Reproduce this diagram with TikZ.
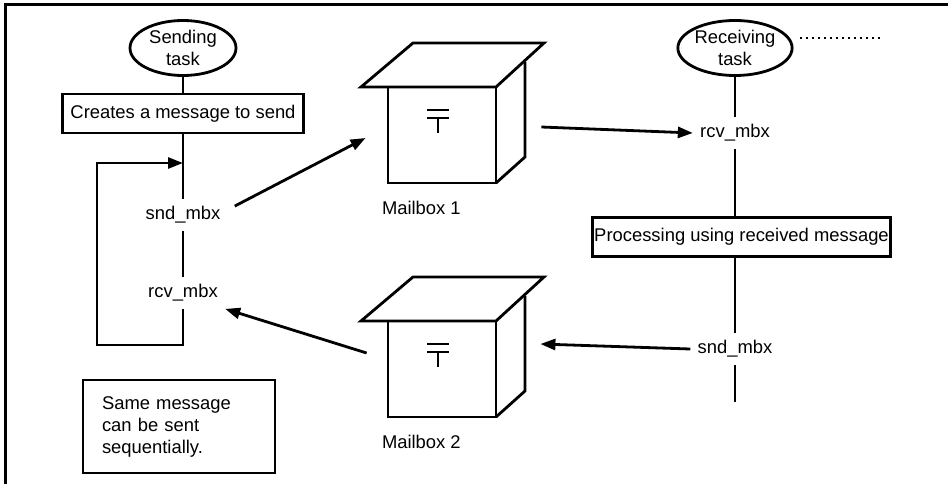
\documentclass[tikz,border=0pt]{standalone}
\usepackage{fontspec}
\setmainfont{Liberation Sans}
\usepackage{tikz}
\usetikzlibrary{arrows.meta,positioning,shapes.geometric}

\tikzset{
  mailbox/.pic={
    \node[draw,minimum width=108pt,minimum height=96pt,inner sep=0pt] (-face) at (0,0) {};
    \draw (-81,-48) -- (54,-48) -- (102,-92) -- (-29,-92) -- cycle;
    \draw (83,-73) -- (83,22) -- (54,48);
    \draw (-15,-25) -- (7,-25) (-15,-17) -- (7,-17) (-4,-17) -- (-4,-2);
  }
}

\begin{document}
\begin{tikzpicture}[x=1pt,y=-1pt,line width=2.8pt,>={Triangle[length=15pt,width=11pt]},on grid,
	every node/.style={font=\fontsize{18.4}{22}\selectfont},
	task/.style={draw,ellipse,minimum width=106pt,minimum height=55pt,inner sep=0pt,align=center},
	stepbox/.style={draw,minimum height=39pt,inner xsep=8pt,inner ysep=0pt},
	call/.style={minimum height=29pt,inner xsep=6pt,inner ysep=0pt},
	note/.style={draw,minimum height=93pt,text width=154pt,inner xsep=19pt,align=left},
	dotline/.style={line width=2.2pt,dash pattern=on 2pt off 4pt}]
	\useasboundingbox (0,0) rectangle (948,484);
	\draw[line width=3pt] (5,484) |- (948,5);

	\node[task] (stask) at (183,48) {Sending\\task};
	\node[stepbox] (cbox) at (183,113.5) {Creates a message to send};
	\node[call] (snd_1) at (183,215) {snd\_mbx};
	\node[call] (rcv_1) [below=78pt of snd_1] {rcv\_mbx};
	\coordinate (loopin) at (183,163);

	\node[task] (rtask) at (735,48) {Receiving\\task};
	\node[call] (rcv_2) at (735,133) {rcv\_mbx};
	\node[stepbox,inner xsep=1.5pt] (pbox) at (741.5,237) {Processing using received message};
	\node[call] (snd_2) at (735,349) {snd\_mbx};
	\coordinate (rend) at (735,402);

	\pic (mb1) at (442,135) {mailbox};
	\pic (mb2) at (442,369) {mailbox};
	\node[anchor=west,inner sep=0pt] (mb1lbl) at ([shift={(-6,24)}]mb1-face.south west) {Mailbox 1};
	\node[anchor=west,inner sep=0pt] (mb2lbl) at ([shift={(-6,24)}]mb2-face.south west) {Mailbox 2};

	\node[draw,note] (rem) at (179,426.5) {Same message\\can be sent\\sequentially.};

	\draw (stask) -- (cbox) -- (snd_1) (snd_1) -- (rcv_1);
	\draw[->] (rcv_1.south) -- ++(0,36) -| (97,163) -- (loopin);
	\draw (rtask) -- (rcv_2) -- (rcv_2 |- pbox.north) (rcv_2 |- pbox.south) -- (snd_2) -- (rend);
	\draw[dotline] (800,38) -- (883,38);

	\draw[->] ([shift={(7,7)}]snd_1.north east) -- ([shift={(-21,3)}]mb1-face.west);
	\draw[->] ([shift={(44,-8)}]mb1-face.east) -- (rcv_2.west);
	\draw[->] (snd_2.west) -- ([shift={(43,-25)}]mb2-face.east);
	\draw[->] ([shift={(-20,-16)}]mb2-face.west) -- (rcv_1.south east);
\end{tikzpicture}
\end{document}
